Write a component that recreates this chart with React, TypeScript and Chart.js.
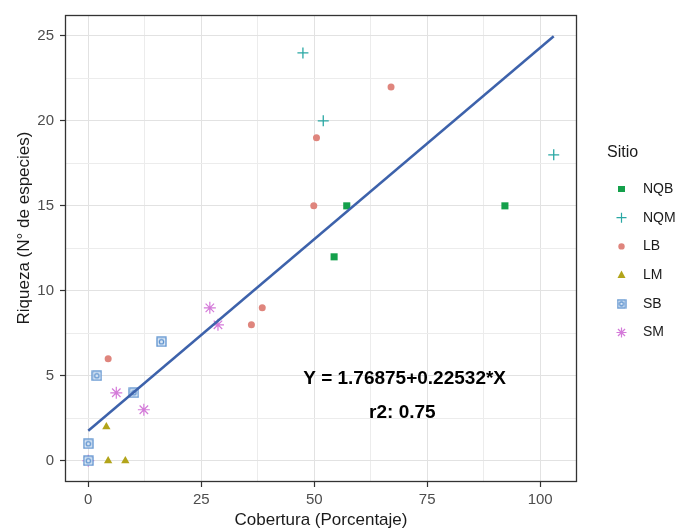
import React, { useEffect, useRef } from 'react';
import { Chart, registerables } from 'chart.js';

Chart.register(...registerables);

// ---- data ----
const siteNames = ['NQB', 'NQM', 'LB', 'LM', 'SB', 'SM'];
const siteColors = ['#14a04b', '#2aa8a4', '#df857d', '#b2a41a', '#5e93cf', '#d47ad9'];

const nqbX = [57.2, 92.2, 54.4];
const nqbY = [15, 15, 12];
const nqmX = [47.5, 52, 103];
const nqmY = [24, 20, 18];
const lbX = [67, 50.5, 49.9, 38.5, 36.1, 4.4];
const lbY = [22, 19, 15, 9, 8, 6];
const lmX = [4, 4.4, 8.2];
const lmY = [2, 0, 0];
const sbX = [16.2, 1.9, 10.1, 0, 0];
const sbY = [7, 5, 4, 1, 0];
const smX = [26.9, 28.7, 6.2, 12.3, 0];
const smY = [9, 8, 4, 3, 0];

const fitX = [0, 103];
const fitY = [1.77, 24.98];

const xTickValues = [0, 25, 50, 75, 100];
const yTickValues = [0, 5, 10, 15, 20, 25];

const equationText = 'Y = 1.76875+0.22532*X';
const r2Text = 'r2: 0.75';
const xTitle = 'Cobertura (Porcentaje)';
const yTitle = 'Riqueza (N° de especies)';
const legendTitle = 'Sitio';

const FONT = "'Liberation Sans', Arial, sans-serif";

function pts(xs: number[], ys: number[]) {
  return xs.map((x, i) => ({ x, y: ys[i] }));
}

function makeSbMarker(size: number, color: string) {
  const c = document.createElement('canvas');
  c.width = size;
  c.height = size;
  const g = c.getContext('2d')!;
  g.fillStyle = '#dfeaf6';
  g.fillRect(1, 1, size - 2, size - 2);
  g.strokeStyle = color;
  g.lineWidth = 1.3;
  g.strokeRect(1, 1, size - 2, size - 2);
  g.beginPath();
  g.arc(size / 2, size / 2, size / 5, 0, Math.PI * 2);
  g.stroke();
  return c;
}

function drawMarker(ctx: CanvasRenderingContext2D, name: string, x: number, y: number, color: string, sb: HTMLCanvasElement) {
  ctx.save();
  ctx.fillStyle = color;
  ctx.strokeStyle = color;
  ctx.lineWidth = 1.2;
  if (name === 'NQB') {
    ctx.fillRect(x - 3.5, y - 3, 7, 6);
  } else if (name === 'NQM') {
    ctx.beginPath();
    ctx.moveTo(x - 5, y); ctx.lineTo(x + 5, y);
    ctx.moveTo(x, y - 5); ctx.lineTo(x, y + 5);
    ctx.stroke();
  } else if (name === 'LB') {
    ctx.beginPath();
    ctx.arc(x, y, 3.2, 0, Math.PI * 2);
    ctx.fill();
  } else if (name === 'LM') {
    ctx.beginPath();
    ctx.moveTo(x, y - 4.5);
    ctx.lineTo(x + 4, y + 3);
    ctx.lineTo(x - 4, y + 3);
    ctx.closePath();
    ctx.fill();
  } else if (name === 'SB') {
    ctx.drawImage(sb, x - sb.width / 2, y - sb.height / 2);
  } else {
    ctx.beginPath();
    const r = 5;
    for (let k = 0; k < 4; k++) {
      const a = (k * Math.PI) / 4;
      ctx.moveTo(x - r * Math.cos(a), y - r * Math.sin(a));
      ctx.lineTo(x + r * Math.cos(a), y + r * Math.sin(a));
    }
    ctx.stroke();
  }
  ctx.restore();
}

export default function App() {
  const ref = useRef<HTMLCanvasElement | null>(null);

  useEffect(() => {
    const canvas = ref.current;
    if (!canvas) return;
    const sbMarker = makeSbMarker(11, siteColors[4]);
    const sbLegend = makeSbMarker(10, siteColors[4]);

    const xMinor = xTickValues.slice(0, -1).map((v, i) => (v + xTickValues[i + 1]) / 2);
    const yMinor = yTickValues.slice(0, -1).map((v, i) => (v + yTickValues[i + 1]) / 2);

    const overlay = {
      id: 'overlay',
      afterDraw(chart: any) {
        const ctx = chart.ctx as CanvasRenderingContext2D;
        const a = chart.chartArea;
        const xs = chart.scales.x;
        const ys = chart.scales.y;
        ctx.save();
        // panel border
        ctx.strokeStyle = '#333333';
        ctx.lineWidth = 1.3;
        ctx.strokeRect(a.left + 0.5, a.top + 0.5, a.right - a.left - 1, a.bottom - a.top - 1);

        // annotations
        ctx.fillStyle = '#000000';
        ctx.font = `bold 19px ${FONT}`;
        ctx.textAlign = 'center';
        ctx.textBaseline = 'middle';
        ctx.fillText(equationText, xs.getPixelForValue(70), ys.getPixelForValue(4.8));
        ctx.fillText(r2Text, xs.getPixelForValue(69.5), ys.getPixelForValue(2.85));

        // axis titles
        ctx.fillStyle = '#1a1a1a';
        ctx.font = `17px ${FONT}`;
        ctx.fillText(xTitle, (a.left + a.right) / 2, 520);
        ctx.save();
        ctx.translate(24, 228);
        ctx.rotate(-Math.PI / 2);
        ctx.fillText(yTitle, 0, 0);
        ctx.restore();

        // legend
        ctx.textAlign = 'left';
        ctx.font = `16px ${FONT}`;
        ctx.fillText(legendTitle, 607, 153);
        ctx.font = `14px ${FONT}`;
        siteNames.forEach((n, i) => {
          const yy = 189 + i * 28.7;
          drawMarker(ctx, n, 621.5, yy, siteColors[i], sbLegend);
          ctx.fillStyle = '#1a1a1a';
          ctx.fillText(n, 643, yy);
        });
        ctx.restore();
      },
    };

    const mk = (i: number, xs: number[], ys: number[], style: any, radius: number, bw: number) => ({
      type: 'scatter' as const,
      label: siteNames[i],
      data: pts(xs, ys),
      pointStyle: style,
      pointRadius: radius,
      pointBorderWidth: bw,
      backgroundColor: siteColors[i],
      borderColor: siteColors[i],
      order: 2,
    });

    const chart = new Chart(canvas, {
      type: 'scatter',
      data: {
        datasets: [
          mk(0, nqbX, nqbY, 'rect', 5, 0),
          mk(1, nqmX, nqmY, 'cross', 5.5, 1.3),
          mk(2, lbX, lbY, 'circle', 3.5, 0),
          mk(3, lmX, lmY, 'triangle', 4.8, 0),
          mk(4, sbX, sbY, sbMarker, 5.5, 0),
          mk(5, smX, smY, 'star', 6, 1.2),
          {
            type: 'line' as const,
            label: 'fit',
            data: pts(fitX, fitY),
            borderColor: '#3d62ab',
            borderWidth: 2.5,
            pointRadius: 0,
            showLine: true,
            fill: false,
            order: 0,
          } as any,
        ],
      },
      options: {
        responsive: false,
        animation: false,
        layout: { padding: { top: 7, right: 109, left: 0, bottom: 0 } },
        plugins: { legend: { display: false }, tooltip: { enabled: false } },
        scales: {
          x: {
            type: 'linear',
            min: -5.15,
            max: 108.15,
            afterBuildTicks: (axis: any) => {
              axis.ticks = [...xTickValues, ...xMinor].sort((p, q) => p - q).map((v) => ({ value: v }));
            },
            afterFit: (axis: any) => { axis.height = 49; },
            grid: {
              color: (c: any) => (xTickValues.includes(c.tick?.value) ? '#e2e2e2' : '#ececec'),
              lineWidth: 1,
              tickLength: 5,
              tickColor: (c: any) => (xTickValues.includes(c.tick?.value) ? '#333333' : 'rgba(0,0,0,0)'),
              tickWidth: 1.2,
            },
            border: { display: false },
            ticks: {
              autoSkip: false,
              maxRotation: 0,
              padding: 4,
              color: '#4d4d4d',
              font: { family: FONT, size: 15 },
              callback: (v: any) => (xTickValues.includes(v) ? String(v) : ''),
            },
          },
          y: {
            type: 'linear',
            min: -1.25,
            max: 26.23,
            afterBuildTicks: (axis: any) => {
              axis.ticks = [...yTickValues, ...yMinor].sort((p, q) => p - q).map((v) => ({ value: v }));
            },
            afterFit: (axis: any) => { axis.width = 65; },
            grid: {
              color: (c: any) => (yTickValues.includes(c.tick?.value) ? '#e2e2e2' : '#ececec'),
              lineWidth: 1,
              tickLength: 5,
              tickColor: (c: any) => (yTickValues.includes(c.tick?.value) ? '#333333' : 'rgba(0,0,0,0)'),
              tickWidth: 1.2,
            },
            border: { display: false },
            ticks: {
              autoSkip: false,
              padding: 6,
              color: '#4d4d4d',
              font: { family: FONT, size: 15 },
              callback: (v: any) => (yTickValues.includes(v) ? String(v) : ''),
            },
          },
        },
      },
      plugins: [overlay],
    });

    return () => chart.destroy();
  }, []);

  return (
    <div style={{ position: 'absolute', left: 0, top: 0, width: 686, height: 531, background: '#ffffff' }}>
      <canvas ref={ref} width={686} height={531} style={{ display: 'block' }} />
    </div>
  );
}
